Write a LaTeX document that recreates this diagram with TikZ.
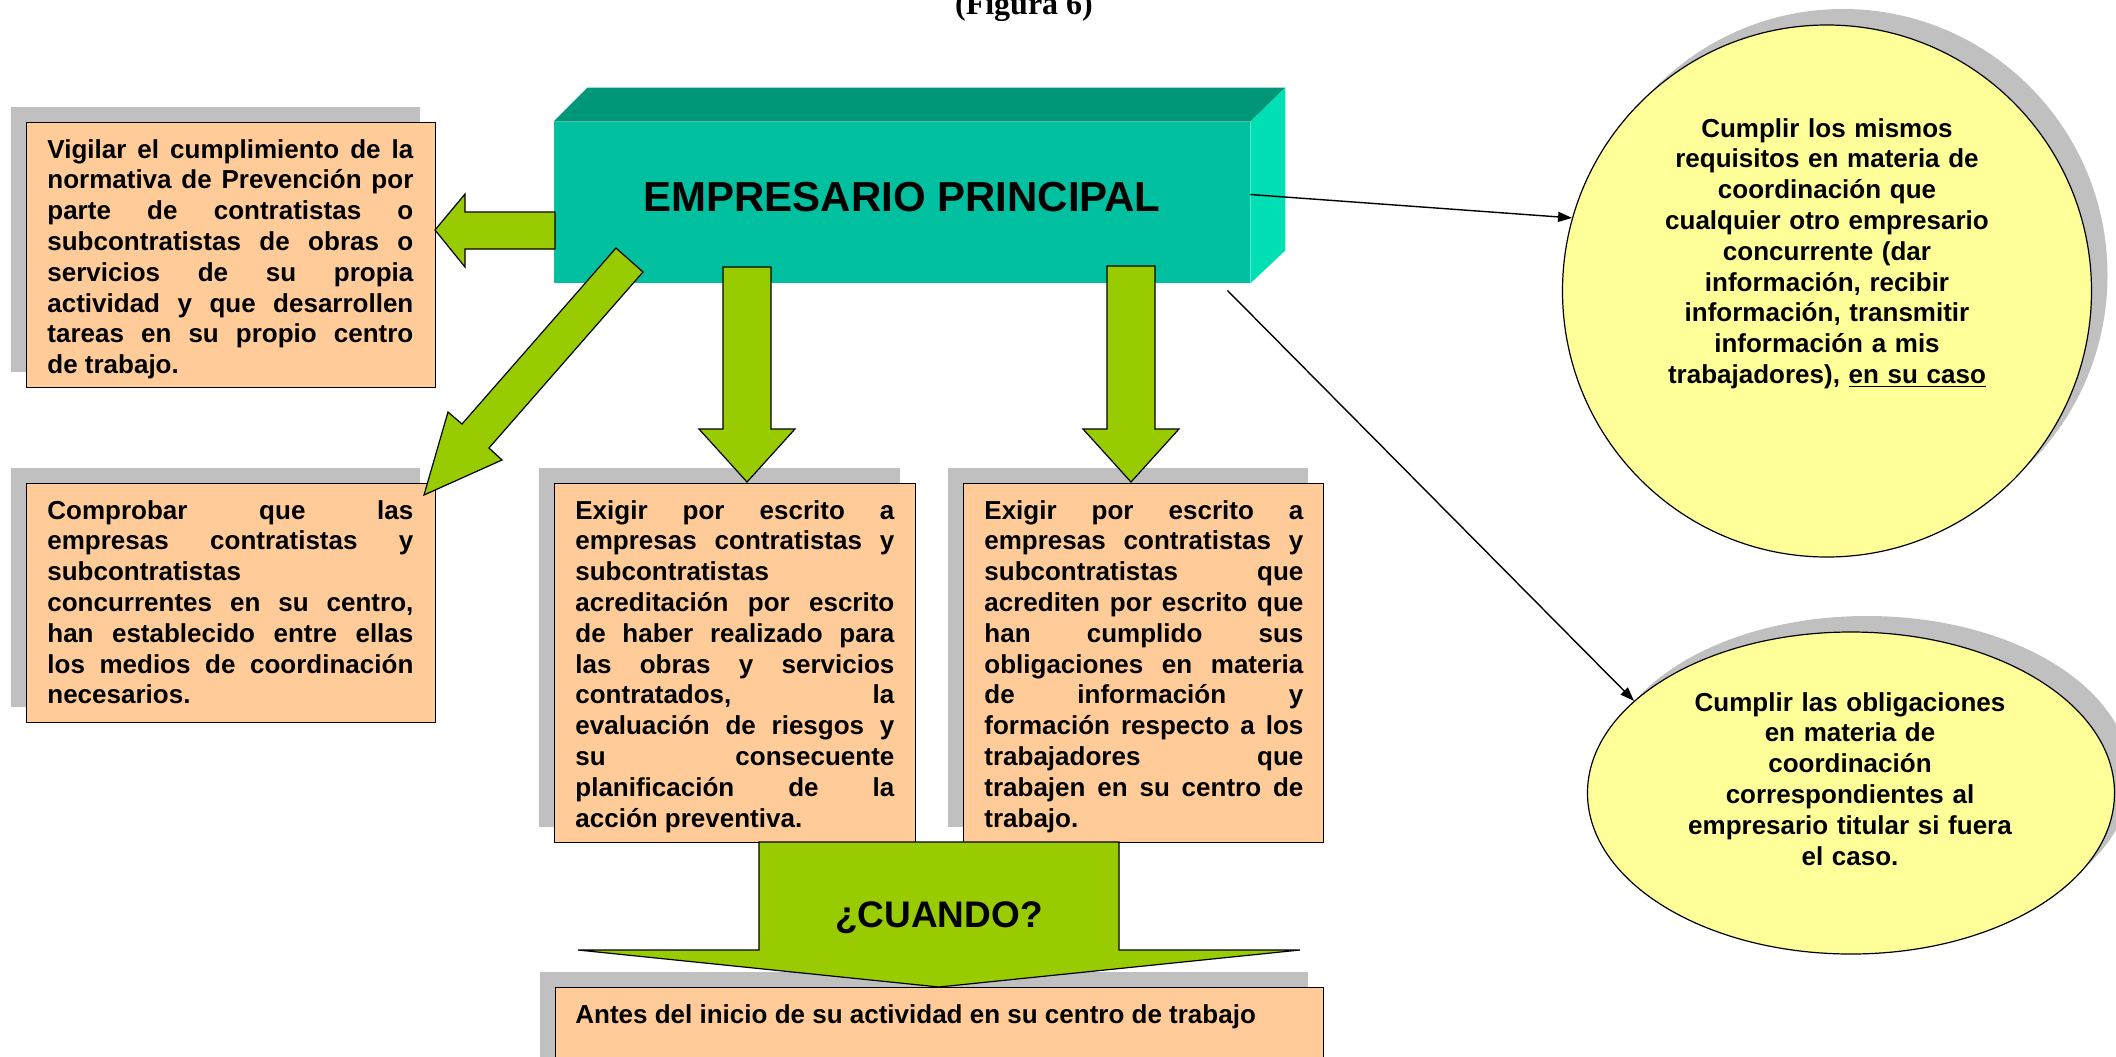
\documentclass[tikz,border=0pt]{standalone}
\usepackage{fontspec}
\setmainfont{Liberation Sans}
\newfontfamily\figfont{Liberation Serif}
\usetikzlibrary{shapes.geometric,arrows.meta,shadows}
\definecolor{peach}{RGB}{255,204,153}
\definecolor{lemon}{RGB}{255,255,153}
\definecolor{lime}{RGB}{153,204,0}
\definecolor{shade}{RGB}{192,192,192}
\definecolor{tealfront}{RGB}{0,192,160}
\definecolor{tealtop}{RGB}{0,150,120}
\definecolor{tealside}{RGB}{0,224,180}
\tolerance=10000
\hyphenpenalty=10000
\exhyphenpenalty=10000
\begin{document}
\begin{tikzpicture}[x=0.5pt,y=-0.5pt,
    caja/.style={draw,line width=0.7pt,fill=peach,inner sep=0pt,anchor=north west,
      drop shadow={shadow xshift=-8pt,shadow yshift=8pt,fill=shade,opacity=1}},
    globo/.style={ellipse,draw,line width=0.6pt,fill=lemon,inner sep=0pt,
      drop shadow={shadow xshift=8pt,shadow yshift=8pt,fill=shade,opacity=1}},
    texto/.style={inner sep=0pt,font=\fontsize{13}{15.4}\selectfont\bfseries},
    parrafo/.style={texto,align=justify,anchor=base west},
    flecha/.style={draw,line width=0.6pt,fill=lime,line join=miter},
    linea/.style={line width=0.7pt,-{Triangle[length=7pt,width=5pt]}}]
    \useasboundingbox (0,0) rectangle (2116,1056);
    \clip (0,0) rectangle (2116,1056);

    \node[font=\figfont\bfseries\fontsize{16}{19}\selectfont,anchor=base] (fig) at (1024,14) {(Figura 6)};

    \node[caja,minimum width=204.5pt,minimum height=132.5pt] (vig) at (26,122) {};
    \node[parrafo,text width=183pt] (vigT) at (47,158)
        {Vigilar el cumplimiento de la\linebreak normativa de Prevención por\linebreak
         parte de contratistas o\linebreak subcontratistas de obras o\linebreak
         servicios de su propia\linebreak actividad y que desarrollen\linebreak
         tareas en su propio centro\linebreak de trabajo.};

    \node[caja,minimum width=204.5pt,minimum height=119.5pt] (comp) at (26,483) {};
    \node[parrafo,text width=183pt] (compT) at (47,519)
        {Comprobar que las\linebreak empresas contratistas y\linebreak
         subcontratistas\linebreak concurrentes en su centro,\linebreak
         han establecido entre ellas\linebreak los medios de coordinación\linebreak
         necesarios.};

    \node[caja,minimum width=180.5pt,minimum height=179.5pt] (exA) at (554,483) {};
    \node[parrafo,text width=159.5pt] (exAT) at (575,519)
        {Exigir por escrito a\linebreak empresas contratistas y\linebreak
         subcontratistas\linebreak acreditación por escrito\linebreak
         de haber realizado para\linebreak las obras y servicios\linebreak
         contratados, la\linebreak evaluación de riesgos y\linebreak
         su consecuente\linebreak planificación de la\linebreak acción preventiva.};

    \node[caja,minimum width=180pt,minimum height=179.5pt] (exB) at (963,483) {};
    \node[parrafo,text width=159.5pt] (exBT) at (984,519)
        {Exigir por escrito a\linebreak empresas contratistas y\linebreak
         subcontratistas que\linebreak acrediten por escrito que\linebreak
         han cumplido sus\linebreak obligaciones en materia\linebreak
         de información y\linebreak formación respecto a los\linebreak
         trabajadores que\linebreak trabajen en su centro de\linebreak trabajo.};

    \node[caja,minimum width=384pt,minimum height=60pt] (antes) at (555,987) {};
    \node[texto,anchor=base west] (antesT) at (575,1023)
        {Antes del inicio de su actividad en su centro de trabajo};

    \node[fill=tealfront,minimum width=348pt,minimum height=80.5pt,inner sep=0pt,
        text depth=5.5pt,font=\fontsize{21}{25}\selectfont\bfseries] (emp) at (902,202.5)
        {EMPRESARIO PRINCIPAL};
    \fill[tealtop] (emp.north west) -- ++(34,-34) -- ([shift={(35,-34)}]emp.north east)
        -- (emp.north east) -- cycle;
    \fill[tealside] (emp.north east) -- ++(35,-34) -- ([shift={(35,-33)}]emp.south east)
        -- (emp.south east) -- cycle;

    \node[globo,minimum width=264.5pt,minimum height=266pt] (req) at (1827,291) {};
    \node[texto,text width=170pt,align=center,anchor=base] (reqT) at (1827,137)
        {Cumplir los mismos\\ requisitos en materia de\\ coordinación que\\
         cualquier otro empresario\\ concurrente (dar\\ información, recibir\\
         información, transmitir\\ información a mis\\ trabajadores), \underline{en su caso}};

    \node[globo,minimum width=263.5pt,minimum height=161pt] (obl) at (1851,793) {};
    \node[texto,text width=170pt,align=center,anchor=base] (oblT) at (1850,711)
        {Cumplir las obligaciones\\ en materia de\\ coordinación\\
         correspondientes al\\ empresario titular si fuera\\ el caso.};

    \draw[linea] ([yshift=4pt]emp.east) -- (req.164.6);
    \draw[linea] ([xshift=-11.5pt,yshift=-3.5pt]emp.south east) -- (obl.157.9);

    \draw[flecha] (555,212) -- (465,212) -- (465,194) -- (435,230) -- (465,267)
        -- (465,249) -- (555,249) -- cycle;
    \draw[flecha] (616,248) -- (643,272) -- (489,448) -- (502,460) -- (424,495)
        -- (448,412) -- (462,424) -- cycle;
    \draw[flecha] (723,267) -- (771,267) -- (771,429) -- (795,429) -- (747,482)
        -- (699,429) -- (723,429) -- cycle;
    \draw[flecha] (1107,266) -- (1155,266) -- (1155,429) -- (1179,429) -- (1131,482)
        -- (1083,429) -- (1107,429) -- cycle;
    \draw[flecha] (759,842) -- (1119,842) -- (1119,950) -- (1300,950) -- (939,987)
        -- (578,950) -- (759,950) -- cycle;
    \node[font=\fontsize{18.5}{22}\selectfont\bfseries,anchor=base] (cuando) at (939,927) {¿CUANDO?};
\end{tikzpicture}
\end{document}
